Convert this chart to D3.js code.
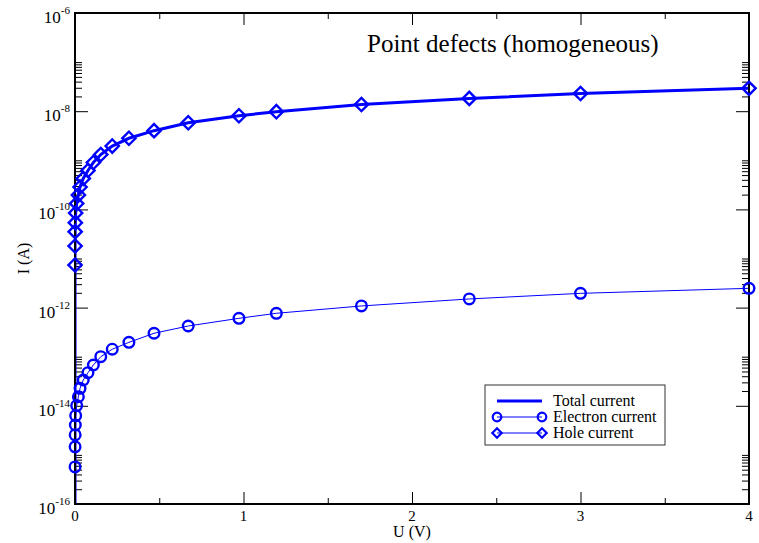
<!DOCTYPE html>
<html>
<head>
<meta charset="utf-8">
<script src="https://cdn.jsdelivr.net/npm/d3@7"></script>
<style>
  body { margin: 0; background: #fff; }
  svg { display: block; }
</style>
</head>
<body>
<div id="chart"></div>
<script>
// Applied voltage (V), ascending
const voltage = [0, 0.0002, 0.0005, 0.001, 0.002, 0.004, 0.010, 0.020, 0.030, 0.049, 0.077,
  0.109, 0.153, 0.221, 0.320, 0.469, 0.672, 0.973, 1.195, 1.70, 2.34, 3.0, 4.0];

// Currents (A) at each voltage
const electronCurrent = [1e-20, 5.70e-16, 1.46e-15, 2.55e-15, 4.06e-15, 6.30e-15, 1.01e-14, 1.53e-14,
  2.27e-14, 3.35e-14, 4.72e-14, 6.78e-14, 1.00e-13, 1.42e-13, 1.96e-13, 3.00e-13, 4.22e-13,
  6.05e-13, 7.66e-13, 1.08e-12, 1.50e-12, 1.95e-12, 2.47e-12];
const holeCurrent = [1e-20, 7.38e-12, 1.80e-11, 3.52e-11, 5.36e-11, 8.45e-11, 1.32e-10, 1.96e-10,
  2.86e-10, 4.26e-10, 6.19e-10, 9.02e-10, 1.31e-9, 1.95e-9, 2.81e-9, 4.01e-9, 5.83e-9,
  8.09e-9, 9.77e-9, 1.37e-8, 1.82e-8, 2.29e-8, 2.92e-8];
const totalCurrent = [1e-20, 7.38e-12, 1.80e-11, 3.52e-11, 5.36e-11, 8.45e-11, 1.32e-10, 1.96e-10,
  2.86e-10, 4.26e-10, 6.19e-10, 9.02e-10, 1.31e-9, 1.95e-9, 2.81e-9, 4.01e-9, 5.83e-9,
  8.09e-9, 9.77e-9, 1.37e-8, 1.82e-8, 2.29e-8, 2.92e-8];

// Axis ticks
const xMajor = [0, 1, 2, 3, 4];
const xMinor = [0.5, 1.5, 2.5, 3.5];
const yExponents = [-16, -14, -12, -10, -8, -6];
const yMinorFactors = [2, 3, 4, 5, 6, 7, 8, 9, 10];

const legendItems = [
  { label: 'Total current', marker: null, width: 3 },
  { label: 'Electron current', marker: 'circle', width: 1 },
  { label: 'Hole current', marker: 'diamond', width: 1 }
];

const width = 759, height = 543;
const margin = { top: 13, right: 10, bottom: 39, left: 75 };
const blue = '#0000ff';

const svg = d3.select('#chart').append('svg')
  .attr('width', width)
  .attr('height', height)
  .attr('font-family', '"Liberation Serif", "Times New Roman", "DejaVu Serif", serif');

const x = d3.scaleLinear().domain([0, 4]).range([margin.left, width - margin.right]);
const y = d3.scaleLog().domain([1e-16, 1e-6]).range([height - margin.bottom, margin.top]);

// Clip lines to plot area
svg.append('clipPath').attr('id', 'plot-clip')
  .append('rect')
    .attr('x', x(0)).attr('y', y(1e-6))
    .attr('width', x(4) - x(0)).attr('height', y(1e-16) - y(1e-6));

// Ticks (inward on all four sides)
const yMinor = [];
yExponents.slice(0, -1).forEach(e => yMinorFactors.forEach(k => yMinor.push(k * Math.pow(10, e))));
const yMajor = yExponents.map(e => Math.pow(10, e));

const tickStyle = g => {
  g.select('.domain').remove();
  g.selectAll('.tick line').attr('stroke', '#000').attr('stroke-width', 1);
  g.selectAll('.tick text').remove();
};

svg.append('g').attr('transform', `translate(0,${y(1e-16)})`)
  .call(d3.axisBottom(x).tickValues(xMajor).tickSize(-12)).call(tickStyle);
svg.append('g').attr('transform', `translate(0,${y(1e-16)})`)
  .call(d3.axisBottom(x).tickValues(xMinor).tickSize(-6)).call(tickStyle);
svg.append('g').attr('transform', `translate(0,${y(1e-6)})`)
  .call(d3.axisTop(x).tickValues(xMajor).tickSize(-12)).call(tickStyle);
svg.append('g').attr('transform', `translate(0,${y(1e-6)})`)
  .call(d3.axisTop(x).tickValues(xMinor).tickSize(-6)).call(tickStyle);

svg.append('g').attr('transform', `translate(${x(0)},0)`)
  .call(d3.axisLeft(y).tickValues(yMajor).tickSize(-13)).call(tickStyle);
svg.append('g').attr('transform', `translate(${x(0)},0)`)
  .call(d3.axisLeft(y).tickValues(yMinor).tickSize(-7)).call(tickStyle);
svg.append('g').attr('transform', `translate(${x(4)},0)`)
  .call(d3.axisRight(y).tickValues(yMajor).tickSize(-13)).call(tickStyle);
svg.append('g').attr('transform', `translate(${x(4)},0)`)
  .call(d3.axisRight(y).tickValues(yMinor).tickSize(-7)).call(tickStyle);

// Tick labels
svg.append('g')
  .selectAll('text')
  .data(xMajor)
  .join('text')
    .attr('x', d => x(d))
    .attr('y', y(1e-16) + 17)
    .attr('text-anchor', 'middle')
    .attr('font-size', 15)
    .text(d => d);

const yLabels = svg.append('g')
  .selectAll('text')
  .data(yExponents)
  .join('text')
    .attr('x', x(0) - 5)
    .attr('y', d => y(Math.pow(10, d)) + 10)
    .attr('text-anchor', 'end')
    .attr('font-size', 17);
yLabels.append('tspan').text('10');
yLabels.append('tspan')
  .attr('font-size', 11)
  .attr('dy', -9)
  .text(d => d);

// Axis titles
svg.append('text')
  .attr('x', (x(0) + x(4)) / 2)
  .attr('y', height - 6)
  .attr('text-anchor', 'middle')
  .attr('font-size', 16)
  .text('U (V)');

svg.append('text')
  .attr('transform', `translate(29,${(y(1e-6) + y(1e-16)) / 2}) rotate(-90)`)
  .attr('text-anchor', 'middle')
  .attr('font-size', 16)
  .text('I (A)');

// Series
const rows = voltage.map((u, i) => ({
  u, e: electronCurrent[i], h: holeCurrent[i], t: totalCurrent[i]
}));

const plot = svg.append('g').attr('clip-path', 'url(#plot-clip)');
const lineOf = key => d3.line().x(d => x(d.u)).y(d => y(d[key]));

plot.append('path').datum(rows)
  .attr('fill', 'none').attr('stroke', blue).attr('stroke-width', 1)
  .attr('d', lineOf('e'));
plot.append('path').datum(rows)
  .attr('fill', 'none').attr('stroke', blue).attr('stroke-width', 1)
  .attr('d', lineOf('h'));
plot.append('path').datum(rows)
  .attr('fill', 'none').attr('stroke', blue).attr('stroke-width', 3)
  .attr('d', lineOf('t'));

// Frame
svg.append('rect')
  .attr('x', x(0)).attr('y', y(1e-6))
  .attr('width', x(4) - x(0)).attr('height', y(1e-16) - y(1e-6))
  .attr('fill', 'none').attr('stroke', '#000').attr('stroke-width', 2);

// Markers (not clipped, like the original they may overhang the axis)
const inDomain = v => v >= 1e-16 && v <= 1e-6;
const diamond = d3.symbol().type(d3.symbolSquare).size(88);

svg.append('g')
  .selectAll('circle')
  .data(rows.filter(d => inDomain(d.e)))
  .join('circle')
    .attr('cx', d => x(d.u))
    .attr('cy', d => y(d.e))
    .attr('r', 5.3)
    .attr('fill', 'none')
    .attr('stroke', blue)
    .attr('stroke-width', 2.4);

svg.append('g')
  .selectAll('path')
  .data(rows.filter(d => inDomain(d.h)))
  .join('path')
    .attr('transform', d => `translate(${x(d.u)},${y(d.h)}) rotate(45)`)
    .attr('d', diamond)
    .attr('fill', 'none')
    .attr('stroke', blue)
    .attr('stroke-width', 2.4);

// Title
svg.append('text')
  .attr('x', 367)
  .attr('y', 52)
  .attr('font-size', 25)
  .text('Point defects (homogeneous)');

// Legend
const legend = svg.append('g').attr('transform', 'translate(485,385)');
legend.append('rect')
  .attr('width', 180).attr('height', 60)
  .attr('fill', '#fff').attr('stroke', '#333').attr('stroke-width', 1);

const item = legend.selectAll('g')
  .data(legendItems)
  .join('g')
    .attr('transform', (d, i) => `translate(0,${16 + i * 16})`);

item.append('line')
  .attr('x1', 12).attr('x2', 57)
  .attr('stroke', blue)
  .attr('stroke-width', d => d.width);
item.filter(d => d.marker === 'circle').selectAll('circle')
  .data([12, 57]).join('circle')
    .attr('cx', d => d).attr('r', 4.3)
    .attr('fill', 'none').attr('stroke', blue).attr('stroke-width', 2.2);
item.filter(d => d.marker === 'diamond').selectAll('path')
  .data([12, 57]).join('path')
    .attr('transform', d => `translate(${d},0) rotate(45)`)
    .attr('d', d3.symbol().type(d3.symbolSquare).size(44))
    .attr('fill', 'none').attr('stroke', blue).attr('stroke-width', 2.2);
item.append('text')
  .attr('x', 68).attr('y', 5)
  .attr('font-size', 16)
  .text(d => d.label);
</script>
</body>
</html>
